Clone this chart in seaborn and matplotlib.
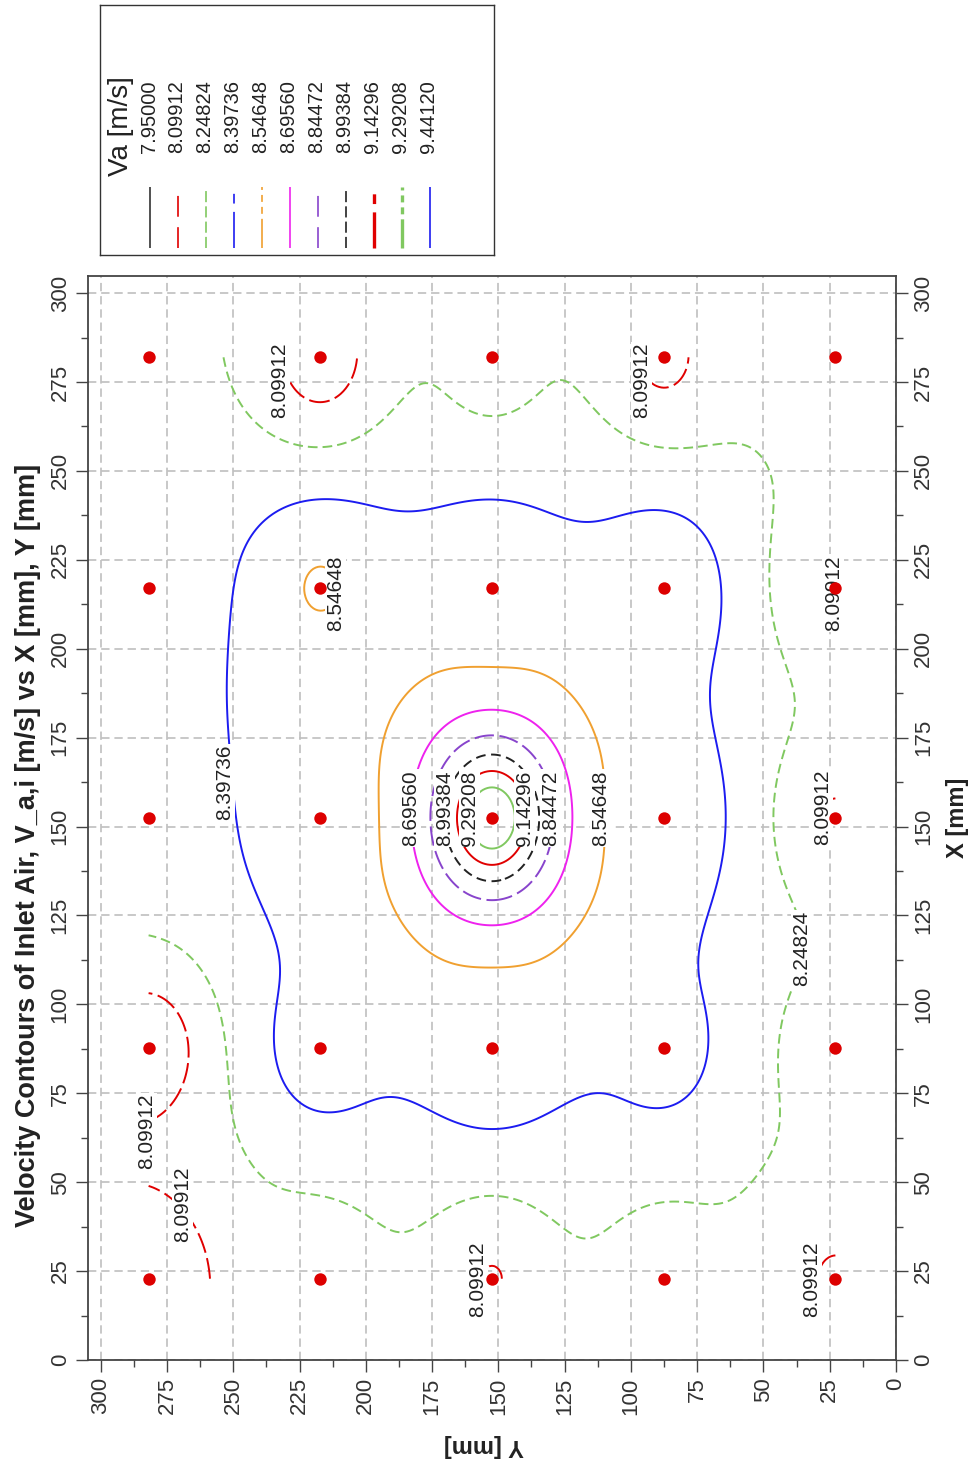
import numpy as np
import pandas as pd
import matplotlib
matplotlib.use('Agg')
import matplotlib.pyplot as plt
from matplotlib.ticker import MultipleLocator
import seaborn as sns

# measurement stations (mm)
x_nodes = [22.86, 87.63, 152.40, 217.17, 281.94]
y_nodes = [22.86, 87.63, 152.40, 217.17, 281.94]

# Va [m/s] at the stations, one list per X row, values ordered by Y (low -> high)
va_x023 = [8.090, 8.170, 8.094, 8.160, 7.970]
va_x088 = [8.170, 8.450, 8.490, 8.470, 8.000]
va_x152 = [8.088, 8.500, 9.4412, 8.480, 8.340]
va_x217 = [8.094, 8.520, 8.480, 8.560, 8.330]
va_x282 = [8.190, 8.070, 8.190, 8.020, 8.270]

va_levels = [7.95000, 8.09912, 8.24824, 8.39736, 8.54648, 8.69560,
             8.84472, 8.99384, 9.14296, 9.29208, 9.44120]

# contour labels: level index and where each one sits (Y, X)
label_level = [1, 1, 4, 1, 3, 5, 7, 9, 8, 6, 4, 1, 2, 1, 1, 1, 1]
label_y = [232.7, 96.1, 211.4, 23.5, 253.2, 183.2, 170.4, 160.8, 140.1, 130.3,
           111.4, 27.7, 35.6, 282.6, 269.0, 157.7, 31.9]
label_x = [275.4, 275.4, 215.6, 215.7, 162.4, 155.2, 155.2, 155.2, 155.2, 155.2,
           155.2, 155.3, 115.7, 64.3, 43.7, 22.6, 22.6]

colors = ['#333333', '#e00000', '#80c860', '#1c1cf0', '#f0a030', '#ee22ee',
          '#8844cc', '#222222', '#e00000', '#80c860', '#1c1cf0']
plot_styles = ['-', (0, (15, 4)), (0, (7, 3.6)), '-', '-', '-',
               (0, (14, 4)), (0, (7, 4)), '-', '-', '-']
legend_styles = ['-', (0, (15, 7.5)), (0, (8, 3)), (0, (26, 6, 7, 6)),
                 (0, (21, 3.6, 5, 3.6, 5, 3.6)), '-', (0, (15, 7.5)), (0, (8, 3)),
                 (0, (26, 6, 7, 6)), (0, (21, 3.6, 5, 3.6, 5, 3.6)), '-']
legend_widths = [1.2] * 8 + [2.4, 2.4, 1.2]

sns.set_style('white')
plt.rcParams['font.family'] = ['Liberation Sans', 'DejaVu Sans']
plt.rcParams['lines.scale_dashes'] = False

vals = np.array([va_x023, va_x088, va_x152, va_x217, va_x282])
px, py = np.meshgrid(x_nodes, y_nodes, indexing='ij')
nodes = pd.DataFrame({'X': px.ravel(), 'Y': py.ravel(), 'Va': vals.ravel()})

# inverse distance weighted surface over the station area
gx, gy = np.meshgrid(np.linspace(x_nodes[0], x_nodes[-1], 301),
                     np.linspace(y_nodes[0], y_nodes[-1], 301), indexing='ij')
d2 = (gx[..., None] - nodes['X'].values) ** 2 + (gy[..., None] - nodes['Y'].values) ** 2
w = 1.0 / np.maximum(d2, 1e-9)
field = (w * nodes['Va'].values).sum(-1) / w.sum(-1)

fig = plt.figure(figsize=(9.72, 14.6), dpi=100)
ax = fig.add_axes([88 / 972, 1 - 1360 / 1460, 808 / 972, 1084 / 1460])

ax.contour(gy, gx, field, levels=va_levels, colors=colors,
           linestyles=plot_styles, linewidths=1.4, zorder=2)
sns.scatterplot(data=nodes, x='Y', y='X', color='#dd0000', s=80, linewidth=0,
                legend=False, zorder=6, ax=ax)

for lv, ly, lx in zip(label_level, label_y, label_x):
    ax.text(ly, lx, f'{va_levels[lv]:.5f}', rotation=90, ha='center', va='center',
            fontsize=15, color='#222222', zorder=4,
            bbox=dict(boxstyle='square,pad=0.05', fc='white', ec='none'))

ax.set_xlim(304.8, 0)
ax.set_ylim(0, 304.8)
ax.set_xlabel('')
ax.set_ylabel('')
ax.xaxis.set_major_locator(MultipleLocator(25))
ax.yaxis.set_major_locator(MultipleLocator(25))
ax.xaxis.set_minor_locator(MultipleLocator(12.5))
ax.yaxis.set_minor_locator(MultipleLocator(12.5))
ax.grid(True, which='major', color='#bfbfbf', linestyle=(0, (6, 3.5)), linewidth=1.2)
ax.set_axisbelow(True)
ax.tick_params(axis='both', which='major', direction='out', length=8.5, width=1,
               labelsize=16, labelcolor='#333333', color='#444444', pad=4)
ax.tick_params(axis='both', which='minor', direction='out', length=5, width=1,
               color='#444444')
ax.tick_params(axis='x', which='both', top=False, bottom=True, labelrotation=90)
ax.tick_params(axis='y', which='both', left=True, right=True, labelleft=True,
               labelright=True, labelrotation=90)
for t in ax.yaxis.get_major_ticks():
    t.label1.set_va('center')
    t.label2.set_va('center')
for s in ax.spines.values():
    s.set_color('#444444')
    s.set_linewidth(1.3)

fig.text(484 / 972, 1 - 1445 / 1460, 'Y [mm]', rotation=180, ha='center', va='center',
         fontsize=17, fontweight='bold', color='#222222')
fig.text(957 / 972, 1 - 818 / 1460, 'X [mm]', rotation=90, ha='center', va='center',
         fontsize=17, fontweight='bold', color='#222222')
fig.text(28 / 972, 1 - 845 / 1460,
         'Velocity Contours of Inlet Air, V_a,i [m/s] vs X [mm], Y [mm]',
         rotation=90, ha='center', va='center', fontsize=19.5, fontweight='bold',
         color='#222222')

# legend box (drawn rotated like the rest of the chart)
lax = fig.add_axes([100 / 972, 1 - 255 / 1460, 394 / 972, 250 / 1460])
lax.set_xlim(100, 494)
lax.set_ylim(255, 5)
lax.set_xticks([])
lax.set_yticks([])
for s in lax.spines.values():
    s.set_color('#333333')
    s.set_linewidth(1.0)
lax.text(121, 176, 'Va [m/s]', rotation=90, ha='center', va='bottom',
         fontsize=20, color='#222222')
for i, lev in enumerate(va_levels):
    lx = 150 + 28 * i
    lax.plot([lx, lx], [248, 187], color=colors[i], linestyle=legend_styles[i],
             linewidth=legend_widths[i], solid_capstyle='butt', dash_capstyle='butt')
    lax.text(lx - 1, 153, f'{lev:.5f}', rotation=90, ha='center', va='bottom',
             fontsize=14.5, color='#222222')

fig.savefig('out.png', dpi=100)
